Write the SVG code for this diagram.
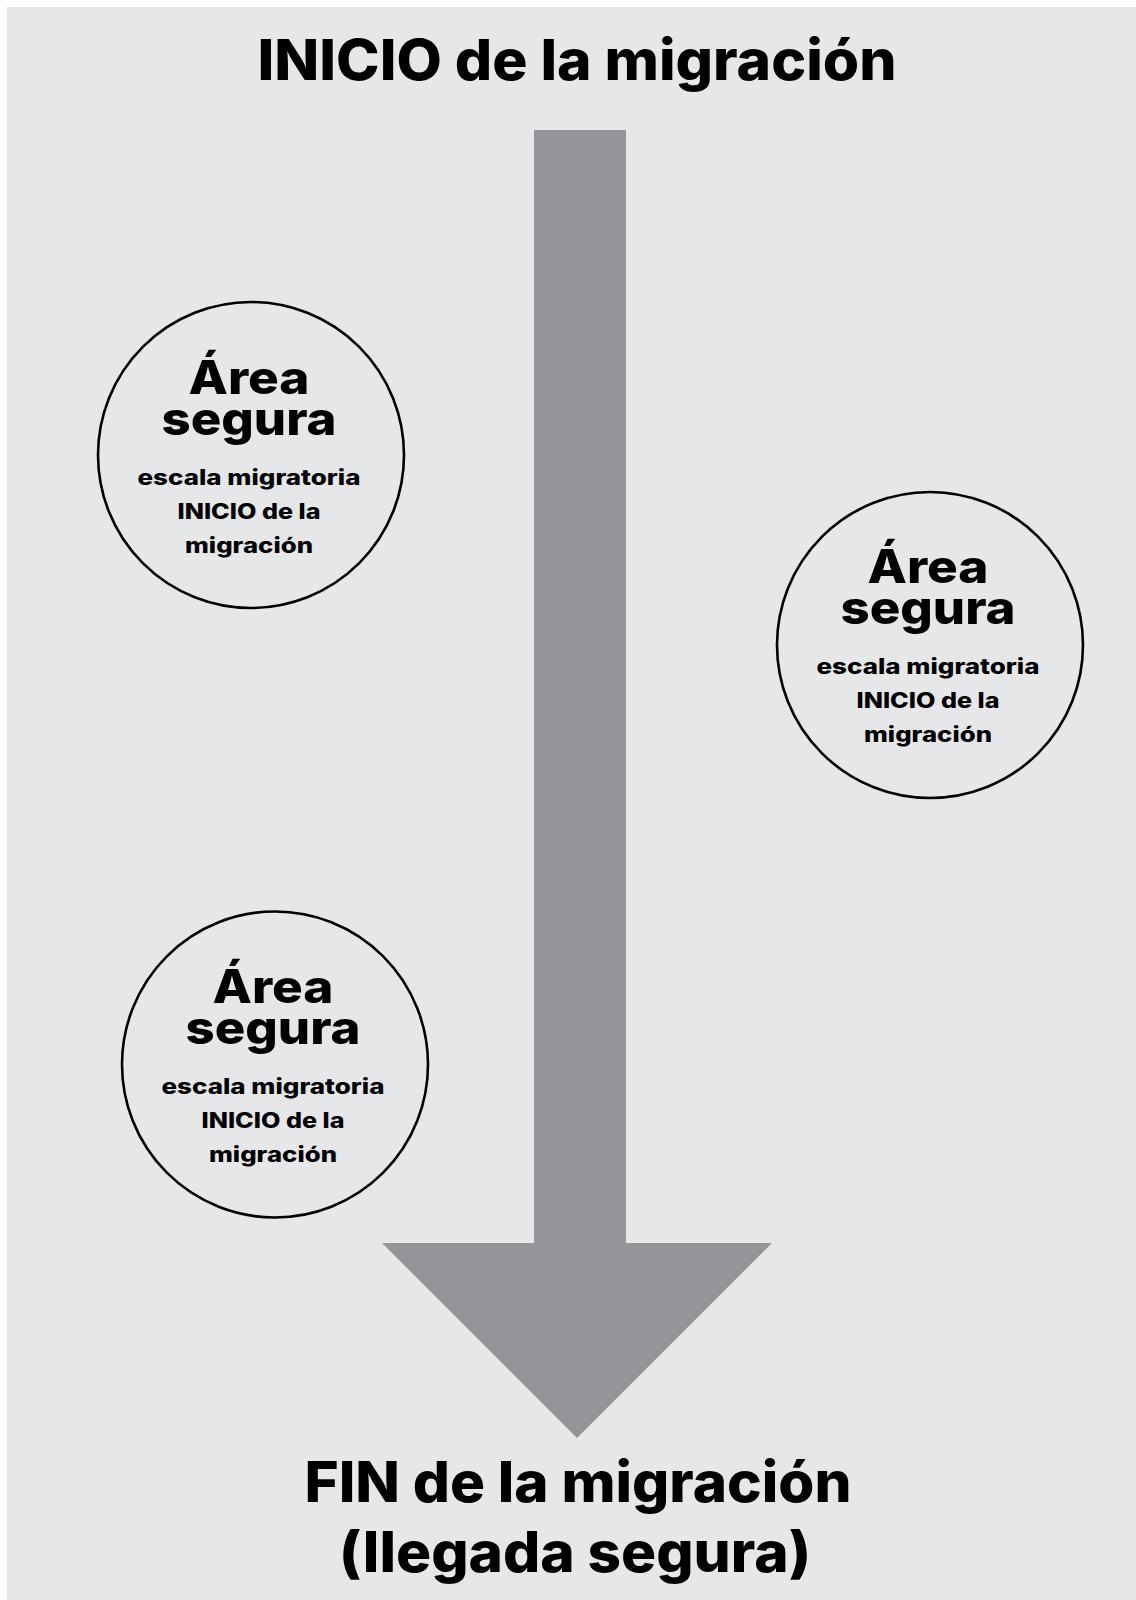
<svg xmlns="http://www.w3.org/2000/svg" width="1136" height="1600" viewBox="0 0 1136 1600">
<style>
.t{font-family:Inter,"Open Sans","Liberation Sans",sans-serif;font-weight:800;fill:#000;text-anchor:middle}
.big{font-size:46px}
.sm{font-size:21px}
.title{font-size:56px}
.c{fill:none;stroke:#000;stroke-width:2.6}
</style>
<rect x="0" y="0" width="1136" height="1600" fill="#ffffff"/>
<rect x="7" y="7" width="1129" height="1593" fill="#e6e7e8"/>
<g id="connectors">
<polygon points="534,130 626,130 626,1243 772,1243 577,1438 382,1243 534,1243" fill="#939598"/>
</g>
<g id="start">
<text class="t title" x="577" y="80" textLength="639" lengthAdjust="spacingAndGlyphs">INICIO de la migración</text>
</g>
<g id="area1">
<circle class="c" cx="251" cy="455" r="153"/>
<text class="t big"><tspan x="249" y="394" textLength="121" lengthAdjust="spacingAndGlyphs">Área</tspan><tspan x="249" y="435" textLength="175" lengthAdjust="spacingAndGlyphs">segura</tspan></text>
<text class="t sm"><tspan x="249" y="485" textLength="223" lengthAdjust="spacingAndGlyphs">escala migratoria</tspan><tspan x="249" y="519" textLength="143" lengthAdjust="spacingAndGlyphs">INICIO de la</tspan><tspan x="249" y="553" textLength="128" lengthAdjust="spacingAndGlyphs">migración</tspan></text>
</g>
<g id="area2">
<circle class="c" cx="930" cy="645" r="153"/>
<text class="t big"><tspan x="928" y="583" textLength="121" lengthAdjust="spacingAndGlyphs">Área</tspan><tspan x="928" y="624" textLength="175" lengthAdjust="spacingAndGlyphs">segura</tspan></text>
<text class="t sm"><tspan x="928" y="674" textLength="223" lengthAdjust="spacingAndGlyphs">escala migratoria</tspan><tspan x="928" y="708" textLength="143" lengthAdjust="spacingAndGlyphs">INICIO de la</tspan><tspan x="928" y="742" textLength="128" lengthAdjust="spacingAndGlyphs">migración</tspan></text>
</g>
<g id="area3">
<circle class="c" cx="275" cy="1064.5" r="153"/>
<text class="t big"><tspan x="273" y="1003" textLength="121" lengthAdjust="spacingAndGlyphs">Área</tspan><tspan x="273" y="1044" textLength="175" lengthAdjust="spacingAndGlyphs">segura</tspan></text>
<text class="t sm"><tspan x="273" y="1094" textLength="223" lengthAdjust="spacingAndGlyphs">escala migratoria</tspan><tspan x="273" y="1128" textLength="143" lengthAdjust="spacingAndGlyphs">INICIO de la</tspan><tspan x="273" y="1162" textLength="128" lengthAdjust="spacingAndGlyphs">migración</tspan></text>
</g>
<g id="end">
<text class="t title"><tspan x="578" y="1502" textLength="547" lengthAdjust="spacingAndGlyphs">FIN de la migración</tspan><tspan x="575" y="1572" textLength="472" lengthAdjust="spacingAndGlyphs">(llegada segura)</tspan></text>
</g>
</svg>
